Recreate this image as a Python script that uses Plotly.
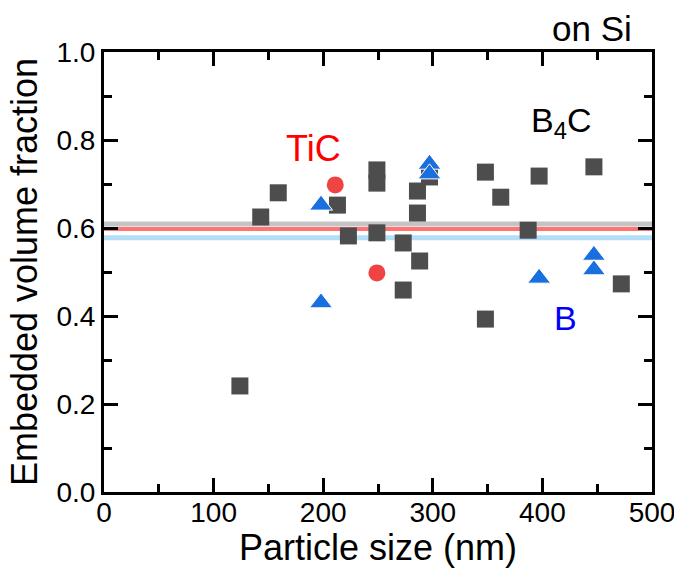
import plotly.graph_objects as go

# B4C (squares)
b4c_x = [124, 143, 159, 213, 223, 249, 249, 249, 273, 273, 286, 286, 288, 297, 348, 348, 362, 387, 397, 447, 472]
b4c_y = [0.241, 0.625, 0.680, 0.652, 0.582, 0.732, 0.702, 0.589, 0.566, 0.459, 0.684, 0.634, 0.525, 0.716, 0.727, 0.393, 0.670, 0.595, 0.718, 0.739, 0.473]

# B (triangles)
b_x = [198, 198, 297, 297, 397, 447, 447]
b_y = [0.652, 0.430, 0.745, 0.723, 0.486, 0.538, 0.505]

# TiC (circles)
tic_x = [211, 249]
tic_y = [0.698, 0.498]

# average lines
avg_names = ["B4C avg", "TiC avg", "B avg"]
avg_vals = [0.609, 0.598, 0.578]
avg_colors = ["#c4c4c4", "#ff7373", "#b3def7"]
avg_widths = [5, 4, 5]
x_range = [0, 500]
y_range = [0, 1.0]

FONT = "Liberation Sans, Arial, sans-serif"

fig = go.Figure()
for n, v, c, w in zip(avg_names, avg_vals, avg_colors, avg_widths):
    fig.add_trace(go.Scatter(x=x_range, y=[v, v], mode="lines",
                             line=dict(color=c, width=w), name=n, showlegend=False))

fig.add_trace(go.Scatter(x=b4c_x, y=b4c_y, mode="markers", name="B4C",
                         marker=dict(symbol="square", size=17, color="#4d4d4d"),
                         showlegend=False))
fig.add_trace(go.Scatter(x=tic_x, y=tic_y, mode="markers", name="TiC",
                         marker=dict(symbol="circle", size=17, color="#f04444"),
                         showlegend=False))
fig.add_trace(go.Scatter(x=b_x, y=b_y, mode="markers", name="B",
                         marker=dict(symbol="triangle-up", size=20, color="#1a6fdf",
                                     line=dict(color="white", width=1)),
                         showlegend=False))
# empty trace to activate top/right tick axes
fig.add_trace(go.Scatter(x=[], y=[], xaxis="x2", yaxis="y2", showlegend=False, hoverinfo="skip"))

tick_common = dict(
    ticks="inside", ticklen=14, tickwidth=3, tickcolor="black",
    showgrid=False, zeroline=False, automargin=False,
)
axis_common = dict(
    showline=True, linecolor="black", linewidth=3, mirror=True,
    ticklabeloverflow="allow",
    tickfont=dict(family=FONT, size=28, color="black"),
    **tick_common,
)

fig.update_layout(
    xaxis=dict(range=x_range, dtick=100, tick0=0, ticklabelstandoff=-7,
               minor=dict(ticks="inside", ticklen=8, tickwidth=3, dtick=50, tickcolor="black", showgrid=False),
               title=dict(text="Particle size (nm)", font=dict(family=FONT, size=36, color="black"), standoff=4),
               **axis_common),
    yaxis=dict(range=y_range, dtick=0.2, tick0=0, tickformat=".1f",
               minor=dict(ticks="inside", ticklen=8, tickwidth=3, dtick=0.1, tickcolor="black", showgrid=False),
               title=dict(text="Embedded volume fraction", font=dict(family=FONT, size=36, color="black"), standoff=8),
               **axis_common),
    xaxis2=dict(range=x_range, dtick=100, tick0=0, overlaying="x", side="top", anchor="y2",
                showticklabels=False, showline=False,
                minor=dict(ticks="inside", ticklen=8, tickwidth=3, dtick=50, tickcolor="black", showgrid=False),
                **tick_common),
    yaxis2=dict(range=y_range, dtick=0.2, tick0=0, overlaying="y", side="right", anchor="x2",
                showticklabels=False, showline=False,
                minor=dict(ticks="inside", ticklen=8, tickwidth=3, dtick=0.1, tickcolor="black", showgrid=False),
                **tick_common),
)

fig.add_annotation(x=191, y=0.78, text="TiC", showarrow=False,
                   font=dict(family=FONT, size=36, color="#ff0000"))
fig.add_annotation(x=417, y=0.84, text="B<sub>4</sub>C", showarrow=False,
                   font=dict(family=FONT, size=34, color="black"))
fig.add_annotation(x=421, y=0.395, text="B", showarrow=False,
                   font=dict(family=FONT, size=34, color="#0000ff"))
fig.add_annotation(x=1.0, y=1.0, xref="paper", yref="paper", text="on Si",
                   showarrow=False, xanchor="right", yanchor="bottom", xshift=-18, yshift=2,
                   font=dict(family=FONT, size=35, color="black"))

fig.update_layout(
    width=674, height=568,
    margin=dict(l=104, r=22, t=52, b=76),
    plot_bgcolor="white", paper_bgcolor="white",
    showlegend=False,
)

fig.write_html("out.html")
